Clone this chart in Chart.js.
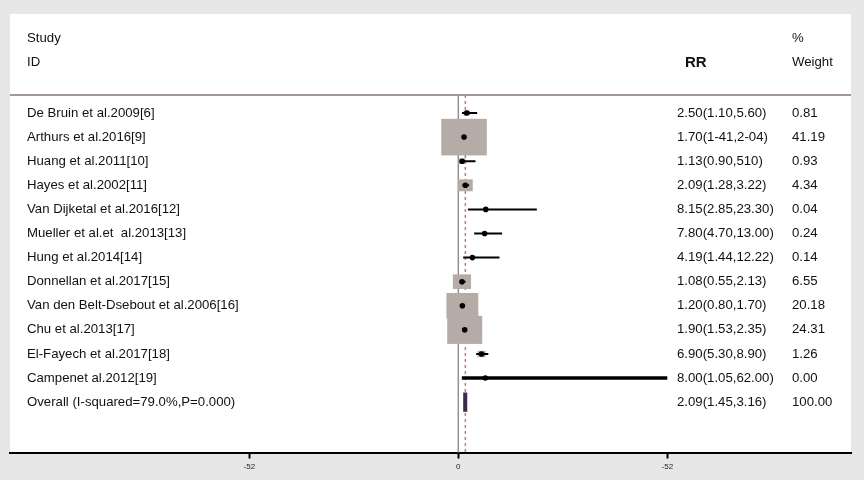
<!DOCTYPE html>
<html>
<head>
<meta charset="utf-8">
<script src="https://cdn.jsdelivr.net/npm/chart.js@4/dist/chart.umd.min.js"></script>
<style>
  html, body { margin: 0; padding: 0; background: #e6e7e6; }
  canvas { display: block; }
</style>
</head>
<body>
<canvas id="forest" width="864" height="480"></canvas>
<script>
// Study rows of the forest plot
const studies = [
  'De Bruin et al.2009[6]',
  'Arthurs et al.2016[9]',
  'Huang et al.2011[10]',
  'Hayes et al.2002[11]',
  'Van Dijketal et al.2016[12]',
  'Mueller et al.et  al.2013[13]',
  'Hung et al.2014[14]',
  'Donnellan et al.2017[15]',
  'Van den Belt-Dsebout et al.2006[16]',
  'Chu et al.2013[17]',
  'El-Fayech et al.2017[18]',
  'Campenet al.2012[19]'
];
const rr      = [2.50, 1.70, 1.13, 2.09, 8.15, 7.80, 4.19, 1.08, 1.20, 1.90, 6.90, 8.00];
const lower   = [1.10, 1.41, 0.90, 1.28, 2.85, 4.70, 1.44, 0.55, 0.80, 1.53, 5.30, 1.05];
const upper   = [5.60, 2.04, 5.10, 3.22, 23.30, 13.00, 12.22, 2.13, 1.70, 2.35, 8.90, 62.00];
const weights = [0.81, 41.19, 0.93, 4.34, 0.04, 0.24, 0.14, 6.55, 20.18, 24.31, 1.26, 0.00];

// Text columns as printed
const rrText = [
  '2.50(1.10,5.60)', '1.70(1-41,2-04)', '1.13(0.90,510)', '2.09(1.28,3.22)',
  '8.15(2.85,23.30)', '7.80(4.70,13.00)', '4.19(1.44,12.22)', '1.08(0.55,2.13)',
  '1.20(0.80,1.70)', '1.90(1.53,2.35)', '6.90(5.30,8.90)', '8.00(1.05,62.00)'
];
const weightText = ['0.81', '41.19', '0.93', '4.34', '0.04', '0.24', '0.14', '6.55', '20.18', '24.31', '1.26', '0.00'];

// Pooled estimate
const overallLabel = 'Overall (I-squared=79.0%,P=0.000)';
const overallRR = 2.09;
const overallLower = 1.45;
const overallUpper = 3.16;
const overallRRText = '2.09(1.45,3.16)';
const overallWeightText = '100.00';

// Axis ticks
const tickValues = [-62, 0, 62];
const tickLabels = ['-52', '0', '-52'];

const overallRow = studies.length;
const wideRow = 11; // the Campenet interval is drawn heavier

// CI segments: one pair of points per study, separated by gaps
const ciPoints = [];
studies.forEach((s, i) => {
  ciPoints.push({ x: lower[i], y: i }, { x: upper[i], y: i }, { x: NaN, y: NaN });
});
const estPoints = rr.map((v, i) => ({ x: v, y: i }));

const FONT = '"Liberation Sans", Arial, sans-serif';
Chart.defaults.font.family = FONT;

const panelPlugin = {
  id: 'panel',
  beforeDraw(chart) {
    const { ctx, chartArea: a } = chart;
    ctx.save();
    ctx.fillStyle = '#e6e7e6';
    ctx.fillRect(0, 0, chart.width, chart.height);
    ctx.fillStyle = '#ffffff';
    ctx.fillRect(a.left, a.top, a.right - a.left, a.bottom - a.top);
    ctx.restore();
  },
  beforeDatasetsDraw(chart) {
    const { ctx, chartArea: a, scales: { x, y } } = chart;
    const headerY = y.getPixelForValue(-0.75);
    ctx.save();
    // header rule
    ctx.strokeStyle = '#a39893';
    ctx.lineWidth = 2;
    ctx.beginPath();
    ctx.moveTo(a.left, headerY);
    ctx.lineTo(a.right, headerY);
    ctx.stroke();
    // null line
    const x0 = x.getPixelForValue(0);
    ctx.strokeStyle = '#9c8e89';
    ctx.lineWidth = 1.5;
    ctx.beginPath();
    ctx.moveTo(x0, headerY);
    ctx.lineTo(x0, a.bottom);
    ctx.stroke();
    // pooled estimate line
    const xo = x.getPixelForValue(overallRR);
    ctx.strokeStyle = '#a8857f';
    ctx.lineWidth = 1.5;
    ctx.setLineDash([3, 3]);
    ctx.beginPath();
    ctx.moveTo(xo, headerY);
    ctx.lineTo(xo, a.bottom);
    ctx.stroke();
    ctx.setLineDash([]);
    // weight boxes
    ctx.fillStyle = '#b5aca8';
    weights.forEach((w, i) => {
      if (w <= 0) return;
      const bw = 7.1 * Math.sqrt(w);
      const bh = 5.7 * Math.sqrt(w);
      const cx = x.getPixelForValue(rr[i]);
      const cy = y.getPixelForValue(i);
      ctx.fillRect(cx - bw / 2, cy - bh / 2, bw, bh);
    });
    ctx.restore();
  },
  afterDatasetsDraw(chart) {
    const { ctx, scales: { x, y } } = chart;
    ctx.save();
    // pooled estimate bar
    const l = x.getPixelForValue(overallLower);
    const r = x.getPixelForValue(overallUpper);
    const t = y.getPixelForValue(overallRow - 0.4);
    const b = y.getPixelForValue(overallRow + 0.4);
    ctx.fillStyle = '#3a2b4a';
    ctx.fillRect(l, t, (r - l) * 0.7, b - t);

    // text columns
    ctx.fillStyle = '#111111';
    ctx.textBaseline = 'middle';
    ctx.font = '13.2px ' + FONT;
    ctx.fillText('Study', 27, y.getPixelForValue(-3.11));
    ctx.fillText('ID', 27, y.getPixelForValue(-2.12));
    ctx.fillText('%', 792, y.getPixelForValue(-3.11));
    ctx.fillText('Weight', 792, y.getPixelForValue(-2.12));
    ctx.font = 'bold 15px ' + FONT;
    ctx.fillText('RR', 685, y.getPixelForValue(-2.08));
    ctx.font = '13.2px ' + FONT;
    studies.forEach((s, i) => {
      const py = y.getPixelForValue(i);
      ctx.fillText(s, 27, py);
      ctx.fillText(rrText[i], 677, py);
      ctx.fillText(weightText[i], 792, py);
    });
    const po = y.getPixelForValue(overallRow);
    ctx.fillText(overallLabel, 27, po);
    ctx.fillText(overallRRText, 677, po);
    ctx.fillText(overallWeightText, 792, po);
    ctx.restore();
  }
};

new Chart(document.getElementById('forest'), {
  type: 'scatter',
  data: {
    datasets: [
      {
        type: 'line',
        data: ciPoints,
        showLine: true,
        spanGaps: false,
        borderColor: '#000000',
        borderWidth: 2,
        pointRadius: 0,
        segment: {
          borderWidth: ctx => Math.floor(ctx.p0DataIndex / 3) === wideRow ? 3.5 : 2
        }
      },
      {
        data: estPoints,
        backgroundColor: '#000000',
        borderColor: '#000000',
        pointRadius: 2.8,
        pointBorderWidth: 0
      }
    ]
  },
  options: {
    responsive: false,
    animation: false,
    events: [],
    layout: { padding: { left: 10, right: 13, top: 14, bottom: 0 } },
    plugins: { legend: { display: false }, tooltip: { enabled: false } },
    scales: {
      x: {
        type: 'linear',
        min: -133,
        max: 116.5,
        afterBuildTicks: scale => { scale.ticks = tickValues.map(v => ({ value: v })); },
        afterFit: scale => { scale.height = 27.5; },
        ticks: {
          callback: (v, i) => tickLabels[i],
          font: { size: 8 },
          color: '#222222',
          padding: 3,
          maxRotation: 0,
          autoSkip: false
        },
        grid: {
          drawOnChartArea: false,
          drawTicks: true,
          tickLength: 6,
          tickWidth: 2,
          tickColor: '#000000'
        },
        border: { display: true, color: '#000000', width: 2 }
      },
      y: {
        type: 'linear',
        display: false,
        reverse: true,
        min: -4.11,
        max: 14.09
      }
    }
  },
  plugins: [panelPlugin]
});
</script>
</body>
</html>
